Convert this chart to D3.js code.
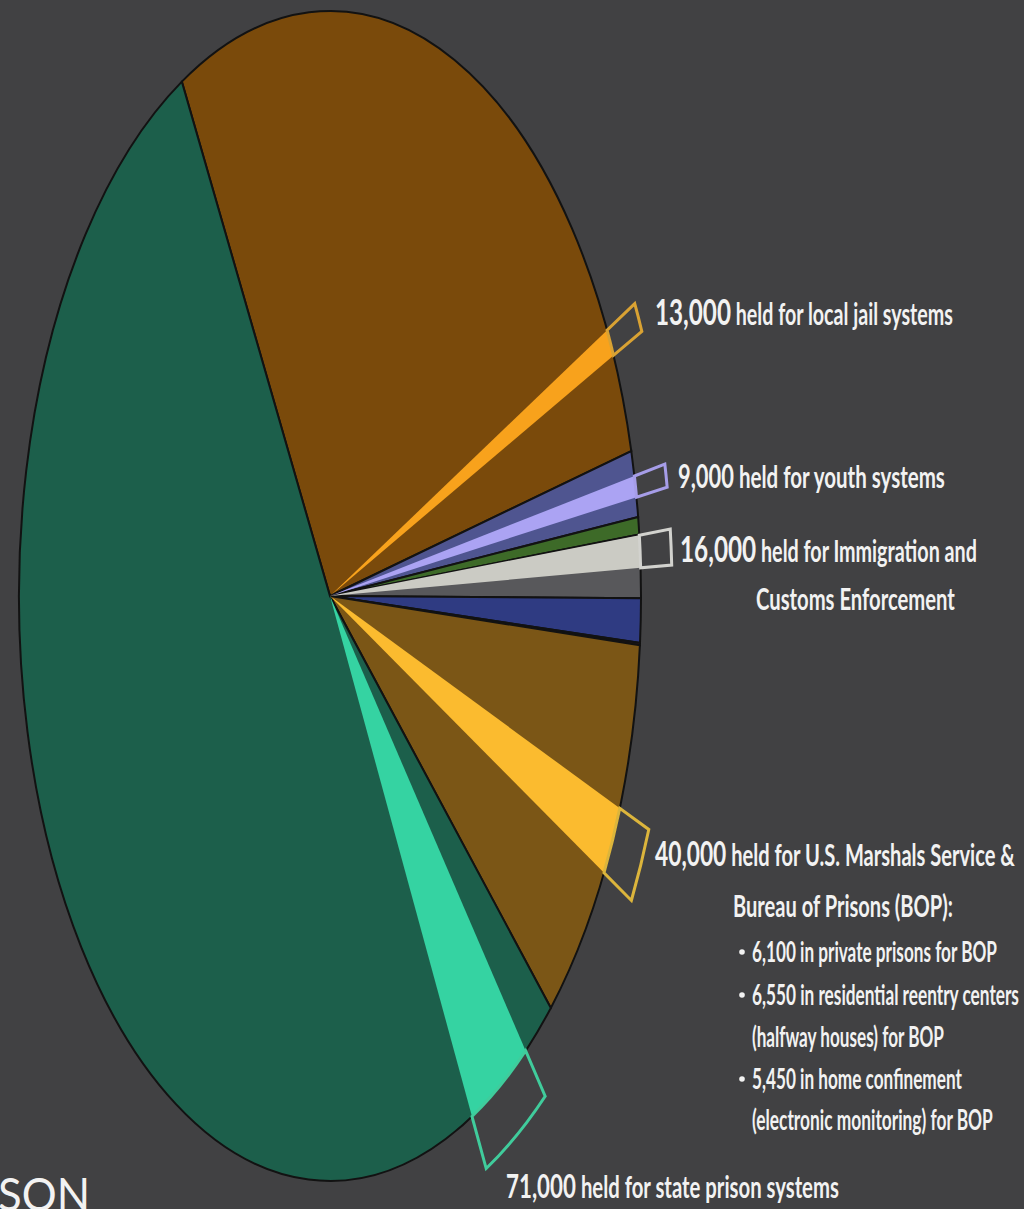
<!DOCTYPE html>
<html><head><meta charset="utf-8">
<script src="https://cdn.jsdelivr.net/npm/d3@7"></script>
<style>html,body{margin:0;padding:0;background:#414143;overflow:hidden}</style>
</head><body><svg id="c" width="1024" height="1209"></svg>
<script>
// ---- data (thousands of people) ----
const categories = ["Local jails","Youth","Territorial prisons","Immigration detention","Involuntary commitment","Other","Federal","State prisons"];
const values = [665, 42, 11, 40, 28, 1.5, 255, 1257];
const sliceColors = ["#7a4a0b","#4f5590","#3d6a28","#58585b","#2f3b82","#4a1e2c","#7b5616","#1c5f4b"];

// highlighted "held for" sub-wedges
const heldValues = [13, 9, 16, 40, 71];           // thousands (from labels)
const heldParent = ["Local jails","Youth","Immigration detention","Federal","State prisons"];
const heldOffset = [584, 16, 0.5, 105, 40];       // thousands into parent slice where wedge starts
const heldColors = ["#f8a21c","#aba3f3","#cbcbc4","#fbbb2f","#35d3a2"];
const heldBox = ["#d9a233","#a69de8","#d2d2ce","#dcb53c","#40cc9c"];

const heldNumbers = ["13,000","9,000","16,000","40,000","71,000"];
const heldTexts = [" held for local jail systems"," held for youth systems"," held for Immigration and"," held for U.S. Marshals Service &"," held for state prison systems"];
const bopItems = ["6,100 in private prisons for BOP","6,550 in residential reentry centers","(halfway houses) for BOP","5,450 in home confinement","(electronic monitoring) for BOP"];
const bopBullet = [true, true, false, true, false];

// ---- drawing ----
const svg = d3.select("#c");
const R = 100, cx = 330, cy = 596, rx = 311, ry = 585;
const total = d3.sum(values);
const start = -28.45 * Math.PI / 180;
const angle = d3.scaleLinear().domain([0, total]).range([0, 2 * Math.PI]);
const pie = d3.pie().value(d => d).sort(null).startAngle(start).endAngle(start + 2 * Math.PI);
const arcs = pie(values);
const arc = d3.arc().innerRadius(0).outerRadius(R);
const boxArc = d3.arc().innerRadius(R).outerRadius(R * 1.1);
const pad = 0.7 * Math.PI / 180;

const g = svg.append("g").attr("transform", `translate(${cx},${cy}) scale(${rx / R},${ry / R})`);

g.selectAll("path.slice").data(arcs).join("path")
  .attr("class", "slice")
  .attr("d", arc)
  .attr("fill", (d, i) => sliceColors[i])
  .attr("stroke", "#121212")
  .attr("stroke-width", 2)
  .attr("vector-effect", "non-scaling-stroke");

const held = heldValues.map((v, i) => {
  const p = arcs[categories.indexOf(heldParent[i])];
  const a0 = p.startAngle + angle(heldOffset[i]);
  const a1 = a0 + angle(v) + pad;
  return {startAngle: a0, endAngle: a1, i};
});

g.selectAll("path.held").data(held).join("path")
  .attr("class", "held")
  .attr("d", arc)
  .attr("fill", d => heldColors[d.i]);

g.selectAll("path.box").data(held).join("path")
  .attr("class", "box")
  .attr("d", boxArc)
  .attr("fill", "none")
  .attr("stroke", d => heldBox[d.i])
  .attr("stroke-width", 3)
  .attr("stroke-linejoin", "miter")
  .attr("vector-effect", "non-scaling-stroke");

// ---- labels (horizontally condensed to match the squeezed picture) ----
const font = "Lato, 'Open Sans', sans-serif";
const T = svg.append("g").attr("fill", "#f2f2f2").attr("font-family", font).attr("font-weight", 700);

function label(x, y, w, num, numSize, txt, size) {
  const t = T.append("text").attr("x", 0).attr("y", 0);
  if (num) t.append("tspan").attr("font-size", numSize).text(num);
  t.append("tspan").attr("font-size", size).text(txt);
  const nat = t.node().getComputedTextLength();
  t.attr("transform", `translate(${x},${y}) scale(${w / nat},1)`);
}
const headPos = [[655, 325, 298, 37], [678, 488, 267, 32], [680, 562, 297, 37], [655, 866, 360, 34], [506, 1198, 333, 33]];
headPos.forEach((p, i) => label(p[0], p[1], p[2], heldNumbers[i], p[3], heldTexts[i], 30));
label(756, 610, 199, null, 0, "Customs Enforcement", 31);
label(733, 917, 220, null, 0, "Bureau of Prisons (BOP):", 30);

const bopY = [962, 1005, 1047, 1089, 1130];
const bopW = [245, 267, 192, 210, 241];
bopItems.forEach((s, i) => {
  label(752, bopY[i], bopW[i], null, 0, s, 29);
  if (bopBullet[i]) T.append("circle").attr("cx", 742).attr("cy", bopY[i] - 10).attr("r", 2.8);
});

const son = T.append("text").attr("x", 0).attr("y", 0).attr("font-size", 46).attr("font-weight", 400).text("SON");
const sw = son.node().getComputedTextLength();
son.attr("transform", `translate(-2,1211) scale(${92 / sw},1)`);
</script></body></html>
